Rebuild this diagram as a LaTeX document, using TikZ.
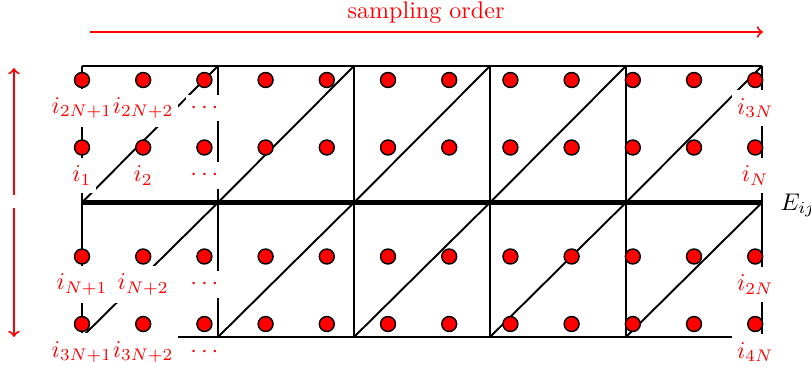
\documentclass[tikz,border=0pt]{standalone}
\begin{document}
\begin{tikzpicture}[x=0.415pt,y=-0.415pt,
  gridline/.style={black,line width=0.8pt},
  midline/.style={black,line width=1.9pt},
  dot/.style={circle,fill=red,draw=black,line width=0.6pt,inner sep=0pt,minimum size=6.2pt},
  lbl/.style={fill=white,text=red,inner xsep=2pt,inner ysep=3.33pt},
  redarrow/.style={red,line width=0.8pt,->}]
\useasboundingbox (0,0) rectangle (811,366);
% grid corners
\foreach \i/\x in {0/82,1/218,2/354,3/490,4/626,5/762}{
  \coordinate (t\i) at (\x,66);
  \coordinate (m\i) at (\x,202.5);
  \coordinate (b\i) at (\x,337);
}
\draw[gridline] (t0) -- (t5);
\draw[gridline] (b0) -- (b5);
\foreach \i in {0,...,5}{\draw[gridline] (t\i) -- (b\i);}
\foreach \i in {0,...,4}{
  \pgfmathtruncatemacro{\j}{\i+1}
  \draw[gridline] (m\i) -- (t\j);
  \draw[gridline] (b\i) -- (m\j);
}
\draw[midline] (m0) -- (m5);
% dots
\foreach \k in {0,...,11}{
  \foreach \r/\y in {1/80,2/147.5,3/256.5,4/324}{
    \node[dot] (d\r-\k) at ({82+61.2*\k},\y) {};
  }
}
% labels
\foreach \r/\a/\b/\c in {1/{i_{2N+1}}/{i_{2N+2}}/{i_{3N}},2/{i_1}/{i_2}/{i_N},3/{i_{N+1}}/{i_{N+2}}/{i_{2N}},4/{i_{3N+1}}/{i_{3N+2}}/{i_{4N}}}{
  \path (d\r-0) ++(0,28) node[lbl] (l\r-0) {$\a$};
  \path (d\r-1) ++(0,28) node[lbl] (l\r-1) {$\b$};
  \path (d\r-2) ++(0,28) node[lbl] (l\r-2) {$\cdots$};
  \path (d\r-11) ++(0,28) node[lbl] (l\r-11) {$\c$};
}
\node[anchor=base west,inner sep=3.33pt] (E) at (772,210) {$E_{ij}$};
% sampling order arrow
\node[text=red] (title) at (426,13) {sampling order};
\coordinate (ha) at (90,32);
\coordinate (hb) at (763,32);
\draw[redarrow] (ha) -- (hb);
% vertical arrows
\coordinate (va1) at (14,195);
\coordinate (va2) at (14,68);
\coordinate (vb1) at (14,208);
\coordinate (vb2) at (14,337);
\draw[redarrow] (va1) -- (va2);
\draw[redarrow] (vb1) -- (vb2);
\end{tikzpicture}
\end{document}
